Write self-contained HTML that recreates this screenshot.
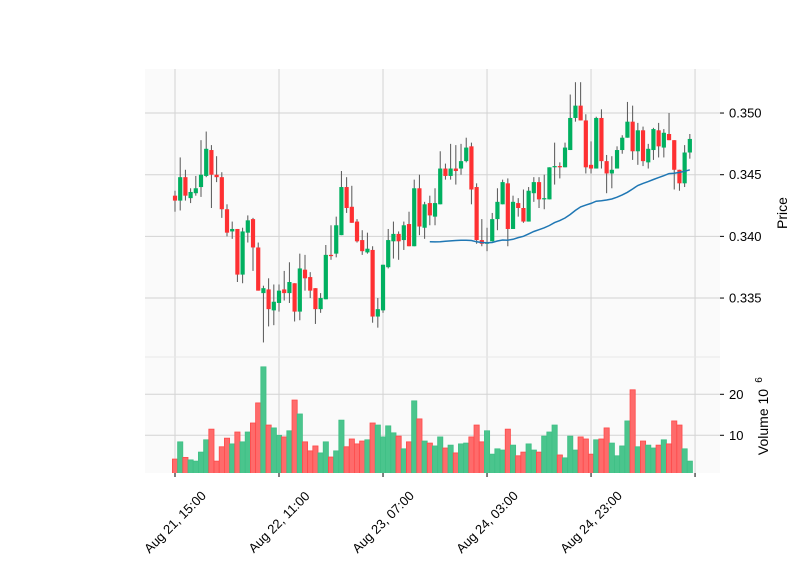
<!DOCTYPE html>
<html><head><meta charset="utf-8"><style>
html,body{margin:0;padding:0;background:#fff;}
svg{display:block;font-family:"Liberation Sans","DejaVu Sans",sans-serif;}
</style></head><body>
<svg id="chart" width="800" height="575" viewBox="0 0 800 575" xmlns="http://www.w3.org/2000/svg">
<rect width="800" height="575" fill="#ffffff"/>
<rect x="145" y="69" width="575" height="288" fill="#fafafa"/>
<rect x="145" y="357" width="575" height="116" fill="#fafafa"/>
<g id="grid"></g><g id="vol"></g><g id="candles"></g><g id="mav"></g><g id="axes"></g>
</svg>
<script>
const opens=[.3433,.3429,.3448,.3431,.3435,.3440,.3449,.3470,.3450,.3448,.3422,.3404,.3406,.3369,.3403,.3414,.3391,.3354,.3357,.3340,.3346,.3357,.3354,.3362,.3339,.3373,.3367,.3358,.3341,.3349,.3385,.3386,.3401,.3440,.3424,.3412,.3397,.3387,.3389,.3335,.3340,.3375,.3396,.3402,.3397,.3410,.3392,.3439,.3407,.3427,.3416,.3426,.3455,.3449,.3455,.3455,.3461,.3473,.3440,.3397,.3394,.3396,.3414,.3426,.3443,.3406,.3427,.3423,.3412,.3435,.3444,.3430,.3430,.3456,.3457,.3456,.3470,.3496,.3506,.3494,.3458,.3455,.3496,.3461,.3451,.3455,.3470,.3480,.3493,.3469,.3486,.3460,.3470,.3486,.3472,.3483,.3478,.3454,.3443,.3468];
const highs=[.3437,.3464,.3454,.3439,.3449,.3478,.3485,.3474,.3465,.3452,.3426,.3412,.3406,.3407,.3417,.3415,.3395,.3360,.3366,.3361,.3361,.3372,.3379,.3362,.3386,.3385,.3371,.3358,.3354,.3393,.3409,.3416,.3453,.3448,.3441,.3414,.3405,.3403,.3392,.3350,.3377,.3406,.3412,.3404,.3412,.3420,.3446,.3450,.3428,.3433,.3439,.3469,.3459,.3475,.3474,.3475,.3480,.3476,.3443,.3414,.3407,.3419,.3439,.3446,.3447,.3433,.3431,.3438,.3440,.3448,.3448,.3450,.3456,.3476,.3460,.3476,.3515,.3525,.3525,.3499,.3477,.3497,.3503,.3466,.3465,.3473,.3482,.3509,.3506,.3492,.3489,.3475,.3488,.3492,.3487,.3500,.3478,.3454,.3474,.3483];
const lows=[.3420,.3421,.3429,.3427,.3433,.3432,.3448,.3423,.3444,.3415,.3400,.3398,.3363,.3362,.3395,.3372,.3356,.3314,.3327,.3328,.3339,.3348,.3346,.3331,.3332,.3356,.3350,.3329,.3338,.3349,.3381,.3383,.3401,.3419,.3411,.3395,.3385,.3386,.3330,.3326,.3338,.3374,.3382,.3381,.3389,.3392,.3392,.3401,.3398,.3409,.3409,.3426,.3446,.3446,.3442,.3450,.3460,.3426,.3394,.3392,.3388,.3396,.3405,.3426,.3392,.3406,.3416,.3411,.3412,.3428,.3423,.3422,.3430,.3442,.3447,.3456,.3470,.3493,.3494,.3451,.3451,.3455,.3455,.3435,.3439,.3455,.3467,.3480,.3462,.3458,.3457,.3455,.3462,.3464,.3464,.3478,.3438,.3437,.3440,.3463];
const closes=[.3429,.3448,.3433,.3436,.3439,.3450,.3471,.3450,.3448,.3422,.3403,.3406,.3369,.3404,.3413,.3391,.3356,.3358,.3341,.3347,.3356,.3354,.3363,.3339,.3374,.3366,.3356,.3341,.3350,.3385,.3384,.3409,.3440,.3423,.3411,.3396,.3388,.3390,.3335,.3341,.3377,.3397,.3402,.3396,.3409,.3392,.3439,.3408,.3426,.3417,.3427,.3455,.3449,.3455,.3453,.3461,.3472,.3438,.3397,.3394,.3395,.3414,.3428,.3444,.3406,.3428,.3423,.3412,.3437,.3444,.3430,.3431,.3456,.3457,.3456,.3472,.3496,.3506,.3494,.3456,.3455,.3496,.3461,.3451,.3454,.3470,.3480,.3493,.3469,.3486,.3461,.3471,.3487,.3473,.3484,.3478,.3454,.3443,.3468,.3479];
const volumes=[4.2,8.4,4.6,4.0,3.7,5.9,8.9,11.5,3.7,7.2,9.3,7.9,10.8,8.4,10.8,13.0,17.9,26.7,12.5,11.8,10.0,9.6,11.1,18.6,15.2,8.4,6.2,7.4,5.7,8.4,4.7,6.2,13.7,7.2,9.1,7.9,8.6,8.9,13.0,12.5,9.6,12.3,10.6,9.8,6.7,8.4,18.4,14.0,8.6,8.1,7.4,9.6,6.9,7.6,5.7,7.9,8.1,9.6,12.5,8.4,11.1,5.4,6.7,6.4,11.5,7.6,5.0,5.9,7.9,6.4,5.9,9.8,10.8,12.5,5.2,4.5,9.8,6.4,9.6,9.1,5.4,8.9,9.1,11.8,8.1,5.0,7.4,13.5,21.1,7.2,8.6,7.6,6.9,7.6,8.9,7.9,13.5,12.5,6.7,3.7];
const xTickLabels=["Aug 21, 15:00","Aug 22, 11:00","Aug 23, 07:00","Aug 24, 03:00","Aug 24, 23:00",""];
const xTickIdx=[0,20,40,60,80,100];
const priceTicks=[0.335,0.340,0.345,0.350];
const volTicks=[10,20];
const MAV=50;

const NS="http://www.w3.org/2000/svg";
const PX0=145,PX1=720,PY0=69,PY1=357,VY0=357,VY1=473;
const xMin=-5.77,xMax=104.8,pMin=0.33022,pMax=0.35357,vMin=0.8,vMax=29.1;
const X=i=>PX0+(i-xMin)/(xMax-xMin)*(PX1-PX0);
const Y=p=>PY1-(p-pMin)/(pMax-pMin)*(PY1-PY0);
const VY=v=>VY1-(v-vMin)/(vMax-vMin)*(VY1-VY0);
function mk(tag,attrs,parent){const e=document.createElementNS(NS,tag);for(const k in attrs)e.setAttribute(k,attrs[k]);parent.appendChild(e);return e;}
const grid=document.getElementById('grid'),vol=document.getElementById('vol'),cg=document.getElementById('candles'),mg=document.getElementById('mav'),ax=document.getElementById('axes');
xTickIdx.forEach(i=>{[[PY0,PY1],[VY0,VY1]].forEach(r=>{const l=mk('line',{x1:X(i),x2:X(i),y1:r[0],y2:r[1],stroke:'#d3d3d3','stroke-width':1},grid);

});});
priceTicks.forEach(p=>{const l=mk('line',{x1:PX0,x2:PX1,y1:Y(p),y2:Y(p),stroke:'#d3d3d3','stroke-width':1},grid);

});
volTicks.forEach(v=>{const l=mk('line',{x1:PX0,x2:PX1,y1:VY(v),y2:VY(v),stroke:'#d3d3d3','stroke-width':1},grid);

});
mk('line',{x1:PX0,x2:PX1,y1:PY1,y2:PY1,stroke:'#e8e8e8','stroke-width':1},grid);
const bw=5.2;
const clip=mk('clipPath',{id:'vclip'},vol);mk('rect',{x:PX0,y:VY0,width:PX1-PX0,height:VY1-VY0},clip);
volumes.forEach((v,i)=>{const up=closes[i]>=opens[i];const r=mk('rect',{x:X(i)-bw/2,y:VY(v),width:bw,height:VY1-VY(v)+5,fill:up?'#4ac58d':'#fe6b6b',stroke:up?'#3fbf85':'#fe4a4a','stroke-width':0.8,'clip-path':'url(#vclip)'},vol);

});
opens.forEach((o,i)=>{const c=closes[i],up=c>=o,x=X(i);
const w=mk('line',{x1:x,x2:x,y1:Y(highs[i]),y2:Y(lows[i]),stroke:'#555','stroke-width':1},cg);


const t=Math.min(Y(o),Y(c)),h=Math.max(1.2,Math.abs(Y(o)-Y(c)));
const b=mk('rect',{x:x-2.1,y:t,width:4.2,height:h,fill:up?'#00b060':'#fe3032'},cg);

});
let pts=[];for(let i=MAV-1;i<closes.length;i++){let s=0;for(let j=i-MAV+1;j<=i;j++)s+=closes[j];pts.push(X(i).toFixed(1)+','+Y(s/MAV).toFixed(1));}
const ml=mk('polyline',{points:pts.join(' '),fill:'none',stroke:'#1f77b4','stroke-width':1.5},mg);


priceTicks.forEach(p=>{mk('line',{x1:PX1,x2:PX1+4,y1:Y(p),y2:Y(p),stroke:'#000'},ax);
const t=mk('text',{x:PX1+9,y:Y(p)+4.5,'font-size':13,fill:'#000'},ax);t.textContent=p.toFixed(3);

});
volTicks.forEach(v=>{mk('line',{x1:PX1,x2:PX1+4,y1:VY(v),y2:VY(v),stroke:'#000'},ax);
const t=mk('text',{x:PX1+9,y:VY(v)+4.5,'font-size':13,fill:'#000'},ax);t.textContent=v;

});
xTickIdx.forEach((i,k)=>{const x=X(i);mk('line',{x1:x,x2:x,y1:VY1,y2:VY1+4,stroke:'#000'},ax);
if(xTickLabels[k]){const cy=522;const t=mk('text',{x:x,y:cy+4.5,'font-size':13,'text-anchor':'middle',transform:`rotate(-45 ${x} ${cy})`,fill:'#000'},ax);t.textContent=xTickLabels[k];

}});
const pl=mk('text',{x:787,y:213,'font-size':14,'text-anchor':'middle',transform:'rotate(-90 787 213)'},ax);pl.textContent='Price';


const vl=mk('text',{x:768,y:422,'font-size':14,'text-anchor':'middle',transform:'rotate(-90 768 422)'},ax);vl.textContent='Volume  10';


const ve=mk('text',{x:762,y:380,'font-size':10,'text-anchor':'middle',transform:'rotate(-90 762 380)'},ax);ve.textContent='6';


</script>
</body></html>
